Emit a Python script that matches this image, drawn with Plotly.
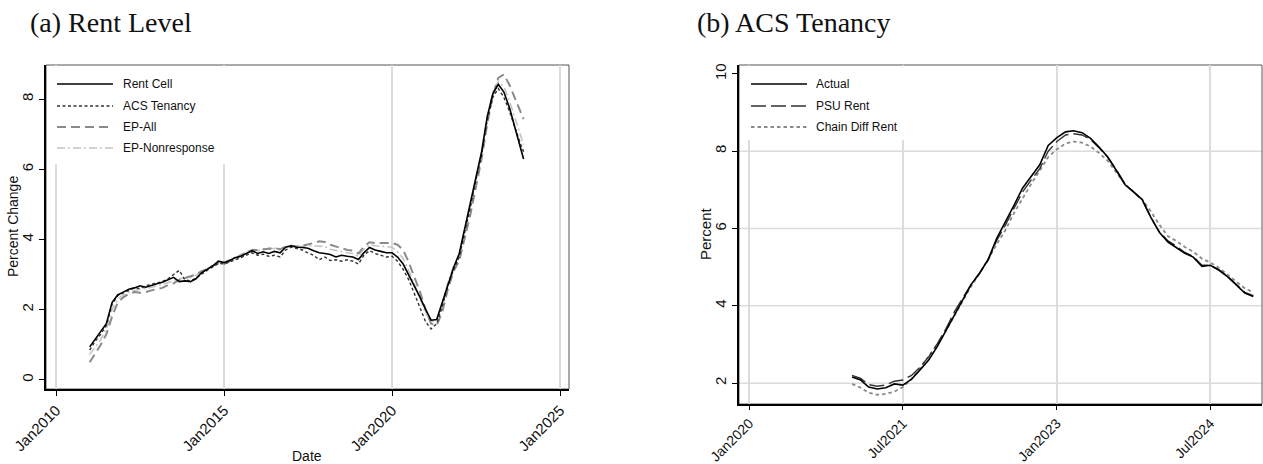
import plotly.graph_objects as go

# ---------------- Panel (a): Rent Level, bimonthly Jan 2011 - Dec 2023 ----------------
dates_a = [f"{y}-{m:02d}-01" for y in range(2011, 2024) for m in (1, 3, 5, 7, 9, 11)] + ["2023-12-01"]

rent_cell = [
    0.94, 1.15, 1.35, 1.60, 2.20, 2.42,
    2.50, 2.58, 2.62, 2.68, 2.64, 2.70,
    2.74, 2.78, 2.85, 2.92, 2.80, 2.82,
    2.80, 2.88, 3.05, 3.15, 3.25, 3.38,
    3.34, 3.40, 3.48, 3.52, 3.60, 3.68,
    3.60, 3.65, 3.60, 3.66, 3.62, 3.78,
    3.82, 3.78, 3.77, 3.75, 3.68, 3.62,
    3.60, 3.57, 3.50, 3.55, 3.52, 3.50,
    3.43, 3.62, 3.77, 3.70, 3.66, 3.62,
    3.62, 3.50, 3.30, 3.00, 2.65, 2.35,
    2.00, 1.70, 1.72, 2.20, 2.75, 3.20,
    3.60, 4.30, 5.00, 5.80, 6.50, 7.50,
    8.15, 8.42, 8.20, 7.75, 7.15, 6.60, 6.29,
]
acs_tenancy = [
    0.85, 1.10, 1.30, 1.55, 2.15, 2.40,
    2.48, 2.55, 2.62, 2.60, 2.68, 2.72,
    2.75, 2.80, 2.88, 3.00, 3.12, 2.85,
    2.82, 2.90, 3.02, 3.12, 3.22, 3.32,
    3.30, 3.35, 3.42, 3.48, 3.55, 3.62,
    3.55, 3.58, 3.52, 3.55, 3.50, 3.70,
    3.78, 3.75, 3.70, 3.62, 3.55, 3.42,
    3.50, 3.40, 3.42, 3.38, 3.42, 3.38,
    3.30, 3.55, 3.68, 3.60, 3.55, 3.50,
    3.52, 3.38, 3.15, 2.85, 2.45, 2.05,
    1.65, 1.45, 1.60, 2.10, 2.70, 3.15,
    3.50, 4.20, 4.90, 5.70, 6.40, 7.40,
    8.05, 8.30, 8.05, 7.65, 7.15, 6.70, 6.50,
]
ep_all = [
    0.50, 0.75, 1.00, 1.30, 1.80, 2.20,
    2.35, 2.45, 2.50, 2.48, 2.50, 2.55,
    2.58, 2.62, 2.70, 2.75, 2.85, 2.90,
    2.95, 3.00, 3.10, 3.15, 3.25, 3.32,
    3.30, 3.38, 3.45, 3.55, 3.62, 3.70,
    3.70, 3.72, 3.75, 3.76, 3.72, 3.80,
    3.82, 3.80, 3.82, 3.85, 3.90, 3.95,
    3.93, 3.85, 3.80, 3.75, 3.70, 3.68,
    3.60, 3.80, 3.92, 3.90, 3.90, 3.90,
    3.90, 3.85, 3.70, 3.35, 2.95, 2.50,
    2.00, 1.60, 1.55, 1.95, 2.60, 3.10,
    3.40, 4.05, 4.70, 5.50, 6.30, 7.30,
    8.10, 8.60, 8.70, 8.40, 8.00, 7.65, 7.43,
]
ep_nonresponse = [
    0.72, 0.95, 1.15, 1.45, 2.00, 2.30,
    2.42, 2.50, 2.55, 2.58, 2.60, 2.65,
    2.68, 2.72, 2.78, 2.82, 2.88, 2.90,
    2.92, 2.98, 3.08, 3.15, 3.25, 3.35,
    3.35, 3.42, 3.50, 3.56, 3.65, 3.72,
    3.68, 3.72, 3.72, 3.75, 3.70, 3.80,
    3.82, 3.80, 3.80, 3.82, 3.82, 3.80,
    3.80, 3.72, 3.68, 3.65, 3.62, 3.60,
    3.52, 3.72, 3.85, 3.82, 3.80, 3.78,
    3.78, 3.65, 3.45, 3.12, 2.72, 2.30,
    1.90, 1.65, 1.72, 2.20, 2.80, 3.25,
    3.55, 4.25, 4.95, 5.75, 6.45, 7.45,
    8.20, 8.50, 8.35, 7.95, 7.45, 6.95, 6.70,
]

ticks_a = ["2010-01-01", "2015-01-01", "2020-01-01", "2025-01-01"]
ticktext_a = ["Jan2010", "Jan2015", "Jan2020", "Jan2025"]
yticks_a = [0, 2, 4, 6, 8]

# ---------------- Panel (b): ACS Tenancy, monthly Jan 2021 - Dec 2024 ----------------
dates_b = [f"{y}-{m:02d}-01" for y in range(2021, 2025) for m in range(1, 13)]

actual = [
    2.16, 2.08, 1.90, 1.85, 1.88, 1.98, 1.95, 2.10, 2.35, 2.60, 2.95, 3.35,
    3.80, 4.20, 4.55, 4.85, 5.20, 5.75, 6.15, 6.60, 7.05, 7.35, 7.65, 8.15,
    8.35, 8.50, 8.53, 8.48, 8.33, 8.10, 7.85, 7.50, 7.13, 6.95, 6.75, 6.30,
    5.90, 5.65, 5.52, 5.36, 5.26, 5.02, 5.05, 4.92, 4.75, 4.55, 4.33, 4.24,
]
psu_rent = [
    2.20, 2.12, 1.96, 1.92, 1.95, 2.05, 2.08, 2.20, 2.42, 2.68, 3.02, 3.40,
    3.85, 4.22, 4.55, 4.85, 5.18, 5.70, 6.08, 6.52, 6.95, 7.25, 7.55, 8.00,
    8.25, 8.42, 8.45, 8.42, 8.30, 8.08, 7.85, 7.52, 7.15, 6.95, 6.73, 6.30,
    5.92, 5.68, 5.55, 5.38, 5.28, 5.05, 5.05, 4.93, 4.76, 4.56, 4.35, 4.26,
]
chain_diff = [
    1.98, 1.88, 1.75, 1.70, 1.72, 1.78, 1.90, 2.10, 2.40, 2.70, 3.00, 3.35,
    3.75, 4.15, 4.50, 4.85, 5.20, 5.60, 5.95, 6.40, 6.80, 7.15, 7.50, 7.85,
    8.05, 8.20, 8.25, 8.22, 8.12, 7.95, 7.75, 7.45, 7.15, 6.95, 6.75, 6.45,
    6.10, 5.80, 5.68, 5.52, 5.40, 5.22, 5.12, 4.98, 4.80, 4.62, 4.45, 4.35,
]

ticks_b = ["2020-01-01", "2021-07-01", "2023-01-01", "2024-07-01"]
ticktext_b = ["Jan2020", "Jul2021", "Jan2023", "Jul2024"]
yticks_b = [2, 4, 6, 8, 10]
ygrid_b = [2, 4, 6, 8]

# ---------------- Layout geometry ----------------
W, H = 1263, 464


def px_x(p):
    return p / W


def px_y(p):
    return 1 - p / H


dom_xa = [px_x(46), px_x(569)]
dom_ya = [px_y(389), px_y(65)]
dom_xb = [px_x(739), px_x(1262)]
dom_yb = [px_y(404), px_y(65)]

SANS = "Liberation Sans, Arial, sans-serif"
TICKFONT = dict(family=SANS, size=15, color="#111")
TICKFONT_B = dict(family=SANS, size=14, color="#111")
LEGFONT = dict(family=SANS, size=12, color="#111")
TITLEFONT = dict(family="Liberation Serif, Times New Roman, serif", size=28, color="#111")
GRID = "#dcdcdc"

# line styles
sty_a = [
    ("Rent Cell", rent_cell, dict(color="#000000", width=1.6, dash="solid")),
    ("ACS Tenancy", acs_tenancy, dict(color="#333333", width=1.4, dash="3px,2.5px")),
    ("EP-All", ep_all, dict(color="#8a8a8a", width=2.0, dash="9px,5px")),
    ("EP-Nonresponse", ep_nonresponse, dict(color="#c4c4c4", width=1.6, dash="8px,3px,2px,3px")),
]
sty_b = [
    ("Actual", actual, dict(color="#000000", width=1.6, dash="solid")),
    ("PSU Rent", psu_rent, dict(color="#333333", width=1.4, dash="15px,5px")),
    ("Chain Diff Rent", chain_diff, dict(color="#8a8a8a", width=1.8, dash="3.5px,3px")),
]

fig = go.Figure()

# draw lighter series first so the solid series sits on top
for name, vals, line in reversed(sty_a):
    fig.add_trace(go.Scatter(x=dates_a, y=vals, mode="lines", name=name, line=line,
                             showlegend=False, xaxis="x", yaxis="y"))
for name, vals, line in reversed(sty_b):
    fig.add_trace(go.Scatter(x=dates_b, y=vals, mode="lines", name=name, line=line,
                             showlegend=False, xaxis="x2", yaxis="y2"))

axis_common = dict(
    showline=True, linecolor="#000", linewidth=1.5,
    ticks="outside", ticklen=5, tickwidth=1.4, tickcolor="#000",
    tickfont=TICKFONT, zeroline=False, automargin=False,
)

fig.update_layout(
    width=W, height=H,
    margin=dict(l=0, r=0, t=0, b=0, autoexpand=False),
    paper_bgcolor="white", plot_bgcolor="white",
    showlegend=False,
    xaxis=dict(axis_common, domain=dom_xa, anchor="y", type="date",
               range=["2009-09-13", "2025-04-08"],
               tickmode="array", tickvals=ticks_a, ticktext=ticktext_a, tickangle=-45,
               showgrid=True, gridcolor=GRID, gridwidth=1.5),
    yaxis=dict(axis_common, domain=dom_ya, anchor="x",
               range=[-0.26, 8.97], tickmode="array", tickvals=yticks_a,
               tickangle=-90, showgrid=False),
    xaxis2=dict(axis_common, domain=dom_xb, anchor="y2", type="date",
                range=["2019-11-25", "2025-01-01"], tickfont=TICKFONT_B, ticklen=4,
                tickmode="array", tickvals=ticks_b, ticktext=ticktext_b, tickangle=-45,
                showgrid=True, gridcolor=GRID, gridwidth=1.5),
    yaxis2=dict(axis_common, domain=dom_yb, anchor="x2",
                range=[1.46, 10.23], tickmode="array", tickvals=yticks_b,
                tickangle=-90, showgrid=False),
)

shapes = []
# horizontal grid lines for panel (b)
for v in ygrid_b:
    shapes.append(dict(type="line", xref="x2 domain", yref="y2", x0=0, x1=1, y0=v, y1=v,
                       line=dict(color=GRID, width=1.5), layer="below"))
# plot-region outlines
for xr, yr in (("x domain", "y domain"), ("x2 domain", "y2 domain")):
    shapes.append(dict(type="rect", xref=xr, yref=yr, x0=0, x1=1, y0=0, y1=1,
                       line=dict(color="#555", width=1), layer="below"))


def add_legend(entries, x_box0, x_box1, y_box0, y_box1, x_line0, x_line1, x_text, rows):
    # white legend panel
    shapes.append(dict(type="rect", xref="paper", yref="paper",
                       x0=px_x(x_box0), x1=px_x(x_box1), y0=px_y(y_box1), y1=px_y(y_box0),
                       fillcolor="white", line=dict(width=0), layer="above"))
    for (name, _, line), ry in zip(entries, rows):
        shapes.append(dict(type="line", xref="paper", yref="paper",
                           x0=px_x(x_line0), x1=px_x(x_line1), y0=px_y(ry), y1=px_y(ry),
                           line=line, layer="above"))
        fig.add_annotation(x=px_x(x_text), y=px_y(ry), xref="paper", yref="paper",
                           text=name, showarrow=False, xanchor="left", yanchor="middle",
                           font=LEGFONT)


add_legend(sty_a, 48, 232, 66, 164, 57, 113, 121, [84, 106, 127, 148])
add_legend(sty_b, 741, 912, 66, 140, 751, 807, 814, [84, 106, 127])

fig.update_layout(shapes=shapes)

# panel titles
fig.add_annotation(x=px_x(28), y=px_y(22), xref="paper", yref="paper", text="(a) Rent Level",
                   showarrow=False, xanchor="left", yanchor="middle", font=TITLEFONT)
fig.add_annotation(x=px_x(695), y=px_y(22), xref="paper", yref="paper", text="(b) ACS Tenancy",
                   showarrow=False, xanchor="left", yanchor="middle", font=TITLEFONT)

# axis titles
AXT = dict(family=SANS, size=14, color="#111")
fig.add_annotation(x=px_x(13), y=px_y(227), xref="paper", yref="paper", text="Percent Change",
                   textangle=-90, showarrow=False, xanchor="center", yanchor="middle", font=AXT)
fig.add_annotation(x=px_x(307), y=px_y(456), xref="paper", yref="paper", text="Date",
                   showarrow=False, xanchor="center", yanchor="middle", font=AXT)
fig.add_annotation(x=px_x(705), y=px_y(234), xref="paper", yref="paper", text="Percent",
                   textangle=-90, showarrow=False, xanchor="center", yanchor="middle",
                   font=dict(AXT, size=15))

fig.write_html("out.html")
